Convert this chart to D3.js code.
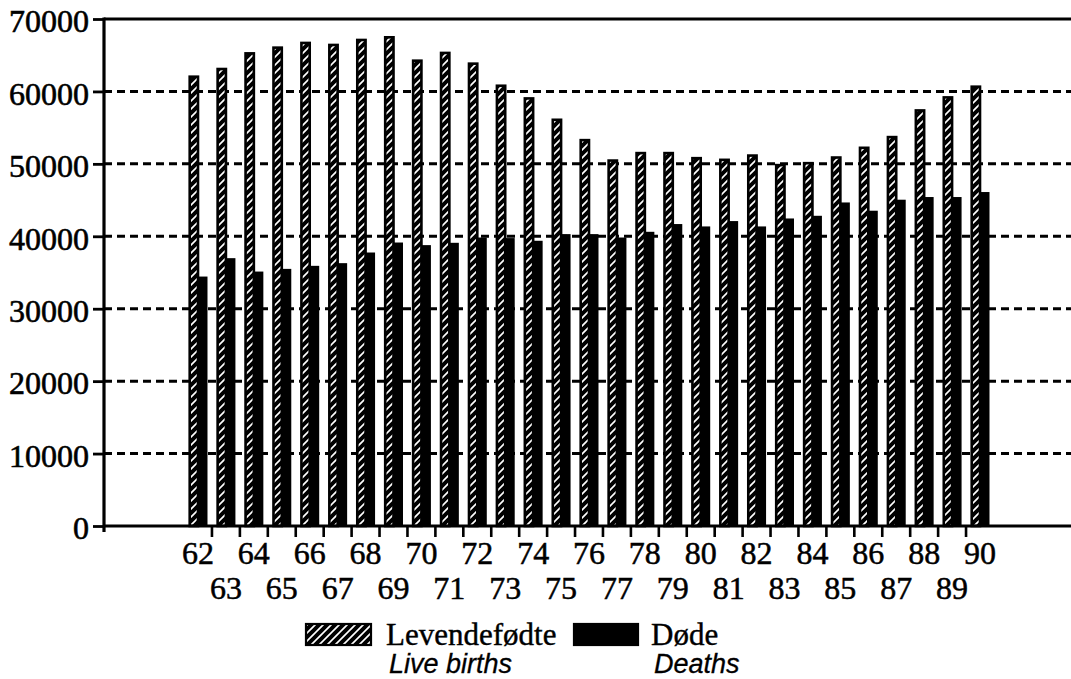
<!DOCTYPE html>
<html>
<head>
<meta charset="utf-8">
<script src="https://cdn.jsdelivr.net/npm/d3@7"></script>
<style>
  html, body { margin: 0; padding: 0; background: #fff; }
  svg { display: block; }
</style>
</head>
<body>
<svg id="chart" width="1071" height="679"></svg>
<script>
const years = ["62","63","64","65","66","67","68","69","70","71","72","73","74","75","76","77","78","79","80","81","82","83","84","85","86","87","88","89","90"];
const births = [62200,63260,65420,66210,66860,66580,67270,67640,64410,65480,64000,60950,59200,56250,53440,50620,51650,51650,50950,50720,51310,49990,50260,51040,52380,53860,57540,59340,60820];
const deaths = [34440,36980,35130,35500,35920,36290,37760,39140,38780,39100,39830,39750,39380,40300,40300,39830,40620,41690,41360,42100,41360,42460,42830,44670,43530,45050,45420,45420,46110];
const yTicks = [0,10000,20000,30000,40000,50000,60000,70000];
const seriesNames = ["Levendefødte","Døde"];
const seriesNamesEn = ["Live births","Deaths"];

const svg = d3.select("#chart");
const W = 1071;
const axisX = 104, baseY = 526, topY = 19;
const serif = "'Liberation Serif', 'Times New Roman', serif";

const y = d3.scaleLinear().domain([0, 70000]).range([baseY, topY]);
const x = d3.scaleBand().domain(years).range([188.5, 989.5]).paddingInner(0.32).paddingOuter(0);
const bw = x.bandwidth();
const xs = d3.scaleBand().domain(["b","d"]).range([0, bw]).paddingInner(0);

// hatch pattern
const defs = svg.append("defs");
const pat = defs.append("pattern").attr("id","hatch").attr("patternUnits","userSpaceOnUse")
  .attr("width",8).attr("height",8);
pat.append("rect").attr("width",8).attr("height",8).attr("fill","#fff");
pat.append("path").attr("d","M-2,2 L2,-2 M0,8 L8,0 M6,10 L10,6")
  .attr("stroke","#000").attr("stroke-width",4);

// grid lines
svg.append("g").selectAll("line").data(yTicks.filter(d => d > 0 && d < 70000)).join("line")
  .attr("x1", axisX).attr("x2", W)
  .attr("y1", d => y(d)).attr("y2", d => y(d))
  .attr("stroke","#000").attr("stroke-width",3).attr("stroke-dasharray","8,5");

// top line
svg.append("line").attr("x1", axisX).attr("x2", W).attr("y1", y(70000)).attr("y2", y(70000))
  .attr("stroke","#000").attr("stroke-width",3.2);

// bars
const gBars = svg.append("g");
gBars.selectAll("rect.b").data(years).join("rect").attr("class","b")
  .attr("x", (d) => x(d) + xs("b") + 1.2)
  .attr("width", xs.bandwidth() - 1.2)
  .attr("y", (d,i) => y(births[i]) + 1.2)
  .attr("height", (d,i) => baseY - y(births[i]) - 1.2)
  .attr("fill","url(#hatch)").attr("stroke","#000").attr("stroke-width",2.6);
gBars.selectAll("rect.d").data(years).join("rect").attr("class","d")
  .attr("x", (d) => x(d) + xs("d"))
  .attr("width", xs.bandwidth())
  .attr("y", (d,i) => y(deaths[i]))
  .attr("height", (d,i) => baseY - y(deaths[i]))
  .attr("fill","#000");

// y axis
const yAxis = d3.axisLeft(y).tickValues(yTicks).tickSize(11).tickSizeOuter(0).tickPadding(4)
  .tickFormat(d3.format("d"));
const gy = svg.append("g").attr("transform", `translate(${axisX},0)`).call(yAxis);
gy.select(".domain").remove();
gy.selectAll(".tick line").attr("stroke","#000").attr("stroke-width",2.8);
gy.selectAll(".tick text").attr("font-family", serif)
  .attr("font-size", 32).attr("fill","#000").attr("dy", "0.4em")
  .attr("stroke","#000").attr("stroke-width",0.6);
svg.append("line").attr("x1", axisX).attr("x2", axisX).attr("y1", y(70000) - 1.6).attr("y2", baseY + 6)
  .attr("stroke","#000").attr("stroke-width",3.2);

// x axis line
svg.append("line").attr("x1", axisX).attr("x2", W).attr("y1", baseY).attr("y2", baseY)
  .attr("stroke","#000").attr("stroke-width",3.2);

// x ticks at band boundaries
const step = x.step();
svg.append("g").selectAll("line").data(years.slice(0, -1)).join("line")
  .attr("x1", d => x(d) + bw + (step - bw) / 2)
  .attr("x2", d => x(d) + bw + (step - bw) / 2)
  .attr("y1", baseY).attr("y2", baseY + 11)
  .attr("stroke","#000").attr("stroke-width",2.6);

// x labels, alternating rows
svg.append("g").selectAll("text").data(years).join("text")
  .attr("x", d => x(d) + bw / 2)
  .attr("y", (d,i) => i % 2 === 0 ? 564 : 599)
  .attr("text-anchor","middle")
  .attr("font-family", serif)
  .attr("font-size", 32).attr("fill","#000")
  .attr("stroke","#000").attr("stroke-width",0.5)
  .text(d => d);

// legend
const leg = svg.append("g");
const lx = [305, 573];
const tx = [386, 651];
leg.selectAll("rect").data(seriesNames).join("rect")
  .attr("x", (d,i) => lx[i] + 1).attr("y", 624)
  .attr("width", (d,i) => i === 0 ? 65 : 64).attr("height", 21)
  .attr("fill", (d,i) => i === 0 ? "url(#hatch)" : "#000")
  .attr("stroke","#000").attr("stroke-width", 2.2);
leg.selectAll("text.no").data(seriesNames).join("text").attr("class","no")
  .attr("x", (d,i) => tx[i]).attr("y", 645)
  .attr("font-family", serif)
  .attr("font-size", 31).attr("fill","#000")
  .attr("stroke","#000").attr("stroke-width",0.4)
  .text(d => d);
leg.selectAll("text.en").data(seriesNamesEn).join("text").attr("class","en")
  .attr("x", (d,i) => tx[i] + 3).attr("y", 673)
  .attr("font-family","'Liberation Sans', Arial, sans-serif")
  .attr("font-style","italic")
  .attr("font-size", 27).attr("fill","#000")
  .attr("stroke","#000").attr("stroke-width",0.3)
  .text(d => d);
</script>
</body>
</html>
